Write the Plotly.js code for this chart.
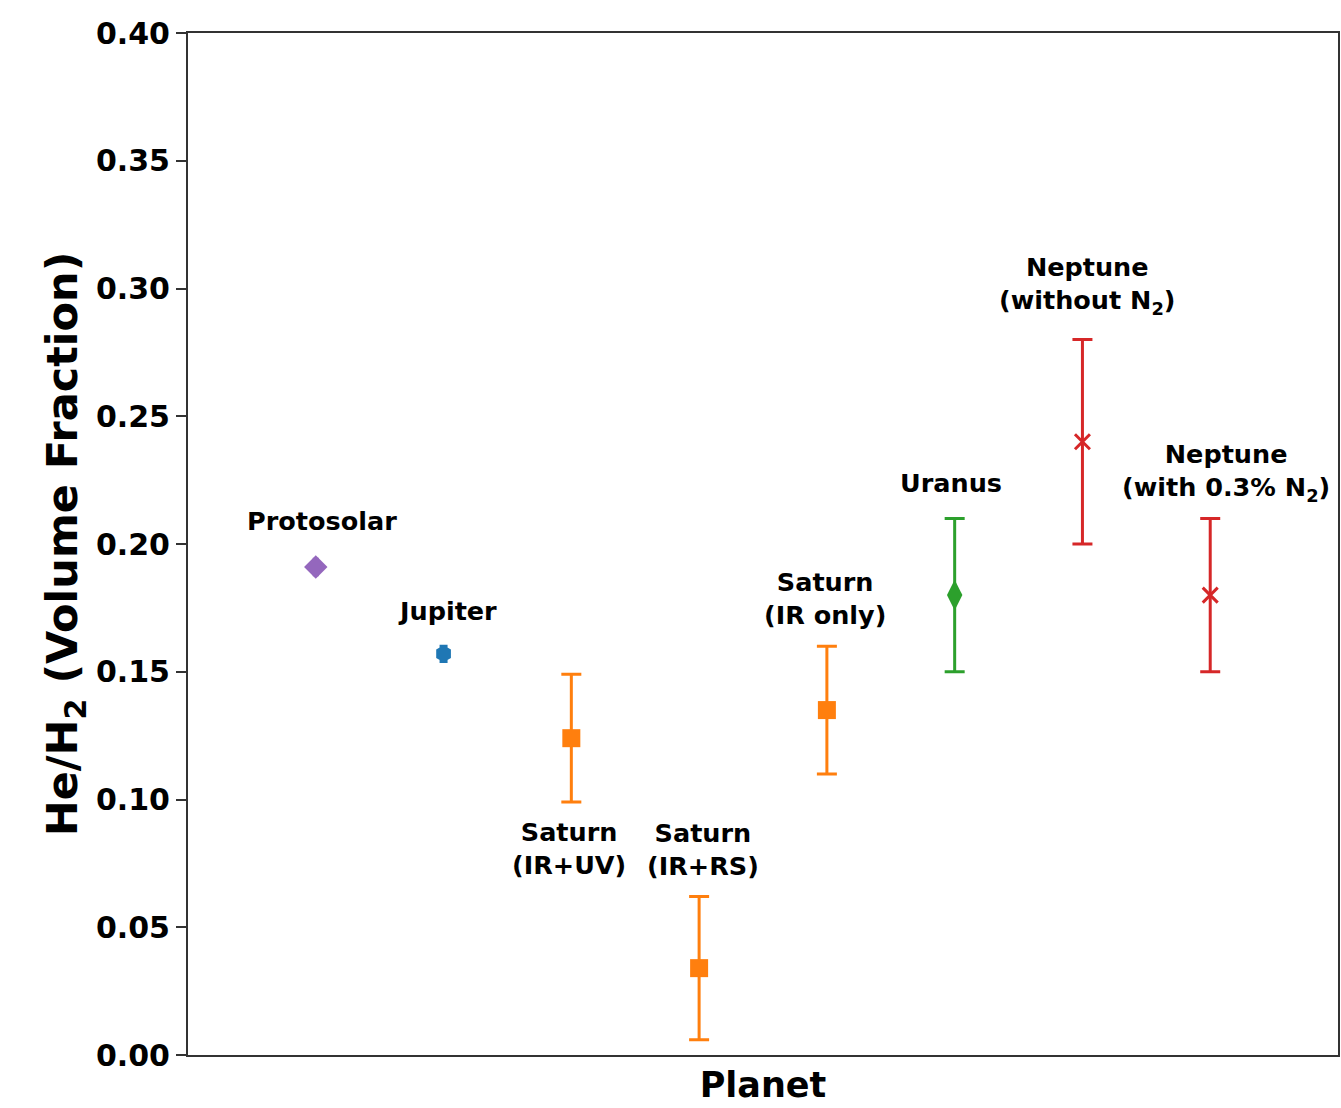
<!DOCTYPE html>
<html>
<head>
<meta charset="utf-8">
<script src="https://cdn.plot.ly/plotly-3.0.1.min.js"></script>
<style>html,body{margin:0;padding:0;background:#fff;}#chart{width:1341px;height:1108px;}</style>
</head>
<body>
<div id="chart"></div>
<script>
// Data
const labels = ["Protosolar", "Jupiter", "Saturn<br>(IR+UV)", "Saturn<br>(IR+RS)", "Saturn<br>(IR only)", "Uranus", "Neptune<br>(without N<sub>2</sub>)", "Neptune<br>(with 0.3% N<sub>2</sub>)"];
const positions = [0, 1, 2, 3, 4, 5, 6, 7];
const heRatio = [0.191, 0.157, 0.124, 0.034, 0.135, 0.180, 0.240, 0.180];
const heError = [0.003, 0.003, 0.025, 0.028, 0.025, 0.030, 0.040, 0.030];
const groupOf = ["proto", "jupiter", "saturn", "saturn", "saturn", "uranus", "neptune", "neptune"];

const groupStyle = {
  proto:   {color: "#9467bd", symbol: "diamond", size: 18, cap: 3},
  jupiter: {color: "#1f77b4", symbol: "hexagon", size: 17, cap: 4},
  saturn:  {color: "#ff7f0e", symbol: "square", size: 18, cap: 10},
  uranus:  {color: "#2ca02c", symbol: "diamond-tall", size: 22, cap: 10},
  neptune: {color: "#d62728", symbol: "x-thin", size: 15, cap: 10}
};

const traces = Object.keys(groupStyle).map(g => {
  const idx = positions.filter(i => groupOf[i] === g);
  const s = groupStyle[g];
  return {
    type: "scatter", mode: "markers",
    x: idx.map(i => positions[i]),
    y: idx.map(i => heRatio[i]),
    error_y: {type: "data", array: idx.map(i => heError[i]), visible: true, color: s.color, thickness: 3, width: s.cap},
    marker: {color: s.color, symbol: s.symbol, size: s.size, line: {color: s.color, width: s.symbol === "x-thin" ? 3 : 0}},
    showlegend: false, hoverinfo: "skip"
  };
});

// label placement (pixel offsets from each point)
const labelShift = [[6, 46], [4, 43], [-2, -110], [4, 119], [-2, 112], [-4, 112], [5, 156], [16, 123]];

const annotations = positions.map(i => ({
  x: positions[i], y: heRatio[i], xref: "x", yref: "y",
  text: "<b>" + labels[i] + "</b>", showarrow: false,
  xshift: labelShift[i][0], yshift: labelShift[i][1],
  font: {family: "DejaVu Sans", size: 25.5, color: "#000"},
  xanchor: "center", yanchor: "middle", align: "center"
}));

const layout = {
  width: 1341, height: 1108,
  margin: {l: 188, r: 3, t: 33, b: 53},
  paper_bgcolor: "#fff", plot_bgcolor: "#fff",
  font: {family: "DejaVu Sans", color: "#000"},
  xaxis: {
    range: [-1, 8], showticklabels: false, ticks: "", showgrid: false, zeroline: false,
    showline: true, mirror: true, linecolor: "#333", linewidth: 2,
    title: {text: "<b>Planet</b>", font: {family: "DejaVu Sans", size: 35, color: "#000"}, standoff: 16}
  },
  yaxis: {
    range: [0, 0.4], dtick: 0.05, tickformat: ".2f", ticks: "outside", ticklen: 10, tickwidth: 2, tickcolor: "#333",
    showgrid: false, zeroline: false, showline: true, mirror: true, linecolor: "#333", linewidth: 2,
    tickfont: {family: "DejaVu Sans", size: 30, color: "#000", weight: "bold"},
    title: {text: "<b>He/H<sub>2</sub> (Volume Fraction)</b>", font: {family: "DejaVu Sans", size: 43, color: "#000"}, standoff: 5}
  },
  annotations: annotations
};

Plotly.newPlot("chart", traces, layout, {staticPlot: true, displayModeBar: false});
</script>
</body>
</html>
